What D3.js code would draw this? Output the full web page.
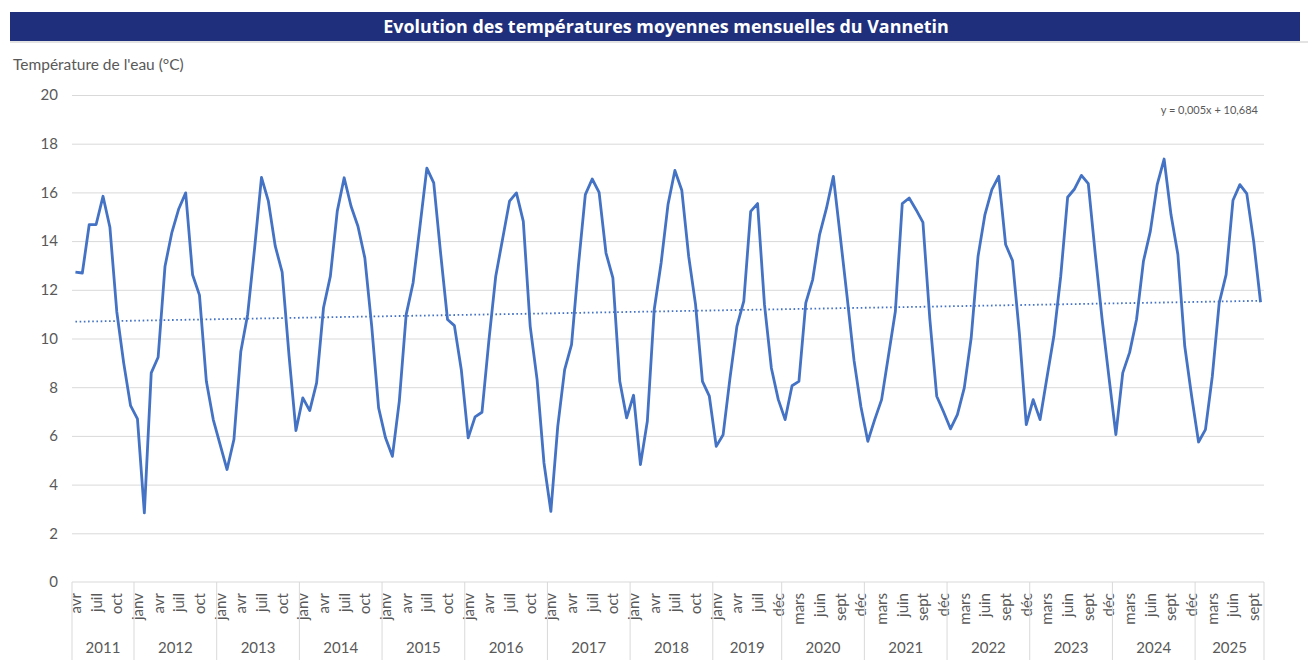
<!DOCTYPE html>
<html>
<head>
<meta charset="utf-8">
<script src="https://cdn.jsdelivr.net/npm/d3@7"></script>
<style>
  html, body { margin: 0; padding: 0; background: #fff; }
  svg { display: block; font-family: Lato, "Open Sans", sans-serif; }
</style>
</head>
<body>
<svg id="chart" width="1308" height="669"></svg>
<script>
// ---- DATA ----
const title = "Evolution des températures moyennes mensuelles du Vannetin";
const yAxisTitle = "Température de l'eau (°C)";
const trendLabel = "y = 0,005x + 10,684";
const trendSlope = 0.005;
const trendIntercept = 10.684;

const years = ["2011","2012","2013","2014","2015","2016","2017","2018","2019","2020","2021","2022","2023","2024","2025"];
const fullYear = ["janv","févr","mars","avr","mai","juin","juil","août","sept","oct","nov","déc"];
const yearMonths = {
  "2011": ["avr","mai","juin","juil","août","sept","oct","nov","déc"],
  "2019": ["janv","févr","mars","avr","mai","juin","juil","août","nov","déc"],
  "2025": ["janv","févr","mars","avr","mai","juin","juil","août","sept","oct"]
};

const temperatures = [
  12.73, 12.69, 14.68, 14.68, 15.84, 14.57, 11.1, 9.0, 7.24,
  6.70, 2.84, 8.59, 9.23, 12.97, 14.36, 15.33, 15.98, 12.62, 11.78, 8.24, 6.67,
  5.64, 4.62, 5.85, 9.47, 11.0, 13.7, 16.62, 15.64, 13.79, 12.73, 9.3, 6.22,
  7.56, 7.04, 8.18, 11.26, 12.56, 15.23, 16.6, 15.43, 14.61, 13.31, 10.5, 7.15,
  5.92, 5.16, 7.42, 10.98, 12.28, 14.6, 17.0, 16.39, 13.5, 10.78, 10.53, 8.72,
  5.92, 6.78, 6.97, 9.9, 12.56, 14.1, 15.64, 15.98, 14.81, 10.5, 8.31, 4.89,
  2.9, 6.39, 8.72, 9.75, 13.0, 15.91, 16.55, 16.0, 13.51, 12.49, 8.24, 6.74,
  7.67, 4.82, 6.6, 11.19, 13.1, 15.5, 16.9, 16.09, 13.38, 11.39, 8.24, 7.63,
  5.57, 6.05, 8.38, 10.5, 11.53, 15.22, 15.54, 11.4, 8.79, 7.5,
  6.67, 8.06, 8.24, 11.46, 12.42, 14.27, 15.35, 16.66, 14.2, 11.7, 9.1, 7.2,
  5.78, 6.67, 7.49, 9.3, 11.12, 15.54, 15.77, 15.29, 14.77, 10.8, 7.63, 6.98,
  6.29, 6.87, 7.97, 10.02, 13.38, 15.09, 16.11, 16.66, 13.86, 13.2, 10.2, 6.46,
  7.49, 6.67, 8.4, 10.09, 12.56, 15.8, 16.14, 16.7, 16.36, 13.5, 10.8, 8.4,
  6.05, 8.59, 9.43, 10.78, 13.17, 14.4, 16.32, 17.37, 15.09, 13.45, 9.68, 7.63,
  5.75, 6.26, 8.45, 11.46, 12.62, 15.68, 16.32, 15.95, 13.99, 11.49
];
const yTicks = [0, 2, 4, 6, 8, 10, 12, 14, 16, 18, 20];

// ---- BUILD CATEGORIES ----
const categories = [];
years.forEach(y => {
  (yearMonths[y] || fullYear).forEach(m => categories.push({ year: y, month: m }));
});
const data = temperatures.map((v, i) => ({ i, v, cat: categories[i] }));

// ---- LAYOUT ----
const svg = d3.select("#chart");
const plot = { left: 72, right: 1264, top: 95, bottom: 582 };
const catBottom = 660;

const x = d3.scaleBand().domain(d3.range(temperatures.length)).range([plot.left, plot.right]).padding(0);
const xc = i => x(i) + x.bandwidth() / 2;
const y = d3.scaleLinear().domain([0, 20]).range([plot.bottom, plot.top]);

// Title bar
svg.append("rect").attr("x", 10).attr("y", 41).attr("width", 1298).attr("height", 2).attr("fill", "#e3e3e3");
svg.append("rect").attr("x", 10).attr("y", 12).attr("width", 1290).attr("height", 29).attr("fill", "#1F2F7B");
svg.append("text").attr("x", 666).attr("y", 32.5).attr("text-anchor", "middle")
  .attr("fill", "#fff").attr("font-weight", "bold").attr("font-size", 17.9)
  .attr("font-family", "'Open Sans', sans-serif").text(title);

// Y axis title
svg.append("text").attr("x", 13).attr("y", 70).attr("fill", "#595959").attr("font-size", 15.5).text(yAxisTitle);

// Gridlines + y labels via axis
const yAxis = d3.axisLeft(y).tickValues(yTicks).tickSize(-(plot.right - plot.left)).tickPadding(14).tickFormat(d3.format("d"));
const gy = svg.append("g").attr("transform", `translate(${plot.left},0)`).call(yAxis);
gy.select(".domain").remove();
gy.selectAll(".tick line").attr("stroke", "#d9d9d9").attr("stroke-width", 1);
gy.selectAll(".tick text").attr("fill", "#595959").attr("font-size", 15).attr("font-family", "Lato, sans-serif");
gy.selectAll(".tick").filter(d => d === 0).select("line").remove();

// X axis line
svg.append("line").attr("x1", plot.left).attr("x2", plot.right).attr("y1", plot.bottom).attr("y2", plot.bottom)
  .attr("stroke", "#d9d9d9").attr("stroke-width", 1);

// Month labels (every 3rd category)
const gx = svg.append("g");
gx.selectAll("text.month").data(data.filter(d => d.i % 3 === 0)).join("text")
  .attr("class", "month")
  .attr("transform", d => `translate(${xc(d.i) + 5.5},${plot.bottom + 11}) rotate(-90)`)
  .attr("text-anchor", "end")
  .attr("fill", "#595959").attr("font-size", 15)
  .text(d => d.cat.month);

// Year groups
const groups = years.map(yr => {
  const idx = data.filter(d => d.cat.year === yr).map(d => d.i);
  return { year: yr, first: d3.min(idx), last: d3.max(idx) };
});
gx.selectAll("line.sep").data(groups).join("line")
  .attr("class", "sep")
  .attr("x1", g => x(g.first)).attr("x2", g => x(g.first))
  .attr("y1", plot.bottom).attr("y2", catBottom)
  .attr("stroke", "#d9d9d9").attr("stroke-width", 1);
gx.append("line").attr("x1", plot.right).attr("x2", plot.right).attr("y1", plot.bottom).attr("y2", catBottom)
  .attr("stroke", "#d9d9d9").attr("stroke-width", 1);
gx.selectAll("text.year").data(groups).join("text")
  .attr("class", "year")
  .attr("x", g => (x(g.first) + x(g.last) + x.bandwidth()) / 2)
  .attr("y", 653)
  .attr("text-anchor", "middle").attr("fill", "#595959").attr("font-size", 15)
  .text(g => g.year);

// Trend line
const trend = data.map(d => ({ i: d.i, v: trendSlope * (d.i + 1) + trendIntercept }));
svg.append("path").datum([trend[0], trend[trend.length - 1]])
  .attr("fill", "none").attr("stroke", "#4472C4").attr("stroke-width", 1.8)
  .attr("stroke-dasharray", "1.6,2.6")
  .attr("d", d3.line().x(d => xc(d.i)).y(d => y(d.v)));

// Data line
svg.append("path").datum(data)
  .attr("fill", "none").attr("stroke", "#4472C4").attr("stroke-width", 2.8)
  .attr("stroke-linejoin", "round")
  .attr("d", d3.line().x(d => xc(d.i)).y(d => y(d.v)));

// Trend equation
svg.append("text").attr("x", 1258).attr("y", 114).attr("text-anchor", "end")
  .attr("fill", "#595959").attr("font-size", 11).text(trendLabel);
</script>
</body>
</html>
